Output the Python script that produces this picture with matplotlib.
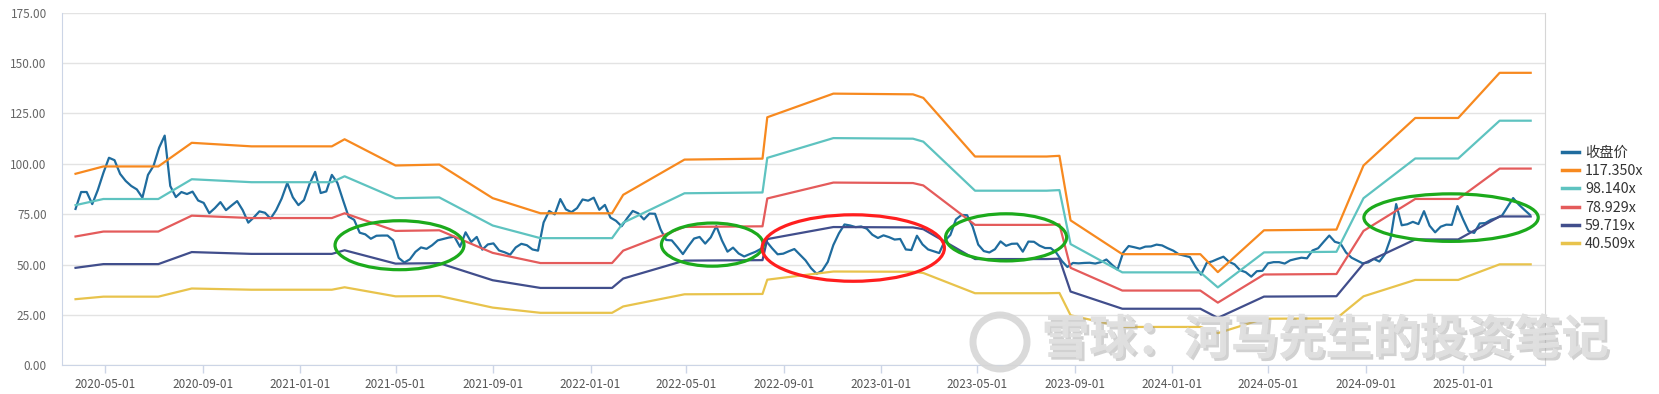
import matplotlib
matplotlib.use("Agg")
import matplotlib.pyplot as plt
import matplotlib.dates as mdates
import matplotlib.patheffects as pe
from matplotlib.patches import Ellipse, Circle
from matplotlib.transforms import IdentityTransform
from matplotlib.ticker import MultipleLocator, FormatStrFormatter
from matplotlib.lines import Line2D
import pandas as pd

plt.rcParams['font.family'] = ['Noto Sans CJK SC', 'DejaVu Sans']

# weekly close (收盘价), first week 2020-03-25
price_start = '2020-03-25'
price = [77.6, 86, 86, 80, 87, 95.5, 103, 101.8, 95, 91.5,
         89, 87.3, 83.2, 94.5, 99, 108, 114, 89, 83.5, 86,
         85, 86.2, 81.8, 80.6, 75.5, 78, 81, 77, 79.3, 81.5,
         77, 70.8, 73.4, 76.4, 75.7, 72.8, 77, 82.8, 90.5, 83.4,
         79.5, 82, 90, 96, 85.5, 86.3, 94.5, 90.5, 82, 73.8,
         72.2, 65.8, 65, 62.8, 64.3, 64.4, 64.4, 62, 53.3, 51,
         52.6, 56.3, 58.5, 57.8, 59.6, 62, 62.7, 63.4, 63.8, 58.8,
         66, 61.2, 63.7, 57.4, 60, 60.5, 57, 56.1, 54.9, 58.5,
         60.3, 59.6, 57.5, 56.9, 70.9, 76.6, 74.9, 82.5, 77.4, 76,
         78, 82.3, 81.7, 83.2, 77.2, 79.6, 73.3, 71.7, 69, 73,
         76.6, 75.4, 72.4, 75.3, 75.2, 67.4, 62.2, 62, 58.7, 55.2,
         59.2, 62.9, 63.7, 60.4, 63.5, 69.1, 62, 56.4, 58.4, 55.5,
         54, 55.2, 56.3, 57.8, 61.5, 58.1, 55.1, 55.4, 56.6, 57.7,
         54.9, 52.1, 48.2, 45.4, 47, 51.3, 59.7, 65.5, 69.9, 69.4,
         68.6, 68.9, 67.8, 64.8, 63.2, 64.5, 63.6, 62.4, 62.7, 57.5,
         57.2, 64.3, 60, 57.5, 56.6, 55.7, 61.8, 64.7, 72.4, 74.6,
         74.5, 68.8, 59.9, 56.7, 56, 57.6, 61.5, 59.3, 60.3, 60.4,
         56.4, 61.4, 61.3, 59.4, 58.2, 58.2, 55.9, 51.8, 48.8, 50.8,
         50.6, 50.8, 50.9, 50.5, 51.2, 52.5, 49.9, 47.5, 55.9, 59.2,
         58.6, 57.9, 58.9, 59, 59.9, 59.5, 58.1, 56.9, 55.1, 54.4,
         53.7, 48.9, 45, 50.8, 51.6, 52.8, 53.9, 51.4, 50.1, 47.2,
         46.2, 44, 46.7, 46.9, 50.6, 51.2, 51.2, 50.5, 52.1, 52.8,
         53.4, 53.1, 57, 58.1, 61.3, 64.4, 61.3, 60.5, 56, 53.4,
         52, 50.6, 51.1, 52.8, 51.5, 55.2, 63, 80, 69.5, 70,
         71.2, 70.1, 76.5, 69.3, 66, 68.8, 69.8, 69.7, 79, 72.5,
         66.6, 65.7, 70.4, 70.6, 72.2, 73.1, 74.3, 78.7, 83, 79.8,
         77.2, 74.7]

# PE band: eps (ttm) at each change point, bands = multiple * eps
band_dates = ['2020-03-25', '2020-04-29', '2020-07-07', '2020-08-18', '2020-11-01',
              '2021-02-10', '2021-02-26', '2021-05-01', '2021-06-25', '2021-08-31',
              '2021-10-30', '2022-01-28', '2022-02-11', '2022-04-29', '2022-08-05',
              '2022-08-11', '2022-11-02', '2023-02-10', '2023-02-23', '2023-04-29',
              '2023-07-28', '2023-08-13', '2023-08-27', '2023-10-31', '2024-02-06',
              '2024-02-28', '2024-04-26', '2024-07-26', '2024-08-29', '2024-11-02',
              '2024-12-26', '2025-02-16', '2025-03-27']
eps = [0.810, 0.841, 0.841, 0.941, 0.926, 0.926, 0.956, 0.845, 0.849, 0.707,
       0.643, 0.643, 0.721, 0.870, 0.874, 1.049, 1.149, 1.146, 1.131, 0.883,
       0.883, 0.886, 0.613, 0.470, 0.470, 0.394, 0.571, 0.574, 0.845, 1.046,
       1.046, 1.237, 1.237]
multiples = [117.350, 98.140, 78.929, 59.719, 40.509]
band_labels = ['117.350x', '98.140x', '78.929x', '59.719x', '40.509x']
band_colors = ['#f7891f', '#5ec3c0', '#e45b5b', '#414e8c', '#e8c34c']
price_color = '#1f6c9e'

# hand-drawn highlight circles: center date, center value, width (days), height
marks = [('2021-05-06', 59.6, 162, 24.3, '#1caa1c'),
         ('2022-06-03', 59.9, 128, 21.4, '#1caa1c'),
         ('2022-11-27', 58.2, 229, 33.0, '#ff1e1e'),
         ('2023-06-07', 63.5, 152, 23.4, '#1caa1c'),
         ('2024-12-17', 73.3, 219, 23.6, '#1caa1c')]

fig = plt.figure(figsize=(16.59, 3.94), dpi=100)
W, H = 1659, 394
ax = fig.add_axes([62 / W, 1 - 365.3 / H, (1545 - 62) / W, (365.3 - 12.7) / H])

pdates = pd.date_range(price_start, periods=len(price), freq='7D')
ax.plot(pdates, price, color=price_color, lw=1.6, zorder=3)

bdates = pd.to_datetime(band_dates)
for m, c in zip(multiples, band_colors):
    ax.plot(bdates, [m * e for e in eps], color=c, lw=1.6, zorder=3)

for d, v, w, h, c in marks:
    ax.add_patch(Ellipse((mdates.date2num(pd.Timestamp(d)), v), w, h,
                         fill=False, edgecolor=c, lw=2.3, zorder=5))

ax.set_ylim(0, 175)
ax.set_xlim(pd.Timestamp('2020-03-08'), pd.Timestamp('2025-04-14'))
ax.yaxis.set_major_locator(MultipleLocator(25))
ax.yaxis.set_major_formatter(FormatStrFormatter('%.2f'))
ax.xaxis.set_major_locator(mdates.MonthLocator(bymonth=[1, 5, 9], bymonthday=1))
ax.xaxis.set_major_formatter(mdates.DateFormatter('%Y-%m-%d'))

ax.grid(axis='y', color='#e3e3e3', lw=1)
ax.set_axisbelow(True)
ax.tick_params(axis='y', length=0, pad=11, labelsize=8.5, labelcolor='#666666')
ax.tick_params(axis='x', length=6, width=1, color='#ccd5e6', pad=3,
               labelsize=8.5, labelcolor='#555555')
for s in ['left', 'bottom']:
    ax.spines[s].set_color('#ccd5e6')
ax.spines['right'].set_color('#d6d6d6')
ax.spines['top'].set_visible(False)

handles = [Line2D([], [], color=price_color, lw=2.5)]
handles += [Line2D([], [], color=c, lw=2.5) for c in band_colors]
fig.legend(handles, ['收盘价'] + band_labels, loc='center left',
           bbox_to_anchor=(1562 / W, 0.496), frameon=False, fontsize=10.3,
           handlelength=1.2, handletextpad=0.4, labelspacing=0.3,
           borderaxespad=0, borderpad=0, labelcolor='#333333')

# watermark
shadow = [pe.withSimplePatchShadow(offset=(2, -2), shadow_rgbFace='#9a9a9a', alpha=0.45),
          pe.Normal()]
fig.add_artist(Circle((1000, H - 342), 27, transform=IdentityTransform(),
                      fill=False, edgecolor='#d6d6d6', lw=5, alpha=0.9, zorder=10))
fig.text(1042 / W, 1 - 340 / H, '雪球：河马先生的投资笔记', fontsize=34,
         fontweight='bold', color='#e0e0e0', alpha=0.95, ha='left', va='center',
         zorder=10, path_effects=shadow)

fig.savefig('out.png', dpi=100)
